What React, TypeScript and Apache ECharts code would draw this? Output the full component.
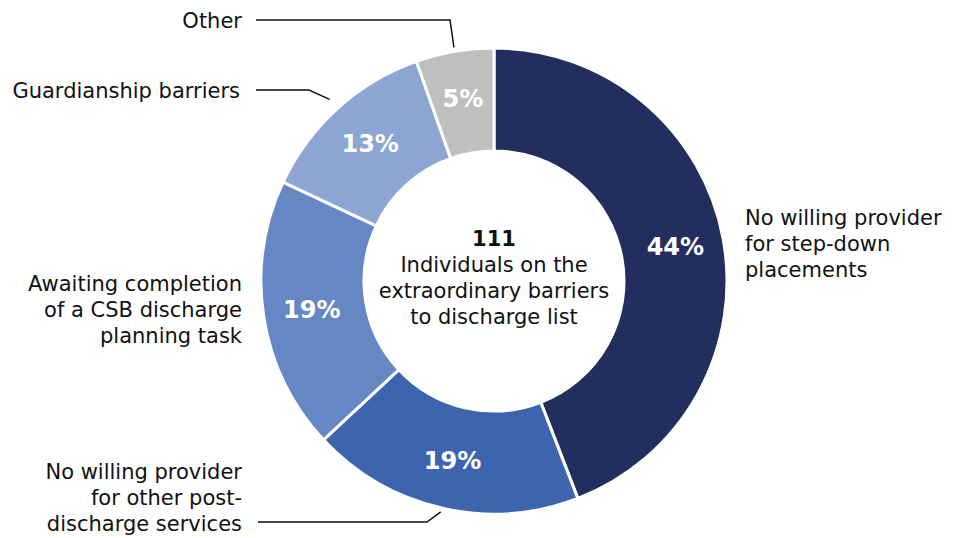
import React, { useEffect, useRef } from "react";
import * as echarts from "echarts";

// ---- data ----
const categories = [
  "No willing provider for step-down placements",
  "No willing provider for other post-discharge services",
  "Awaiting completion of a CSB discharge planning task",
  "Guardianship barriers",
  "Other",
];
const counts = [49, 21, 21, 14, 6];
const labelTextLines = [
  ["No willing provider", "for step-down", "placements"],
  ["No willing provider", "for other post-", "discharge services"],
  ["Awaiting completion", "of a CSB discharge", "planning task"],
  ["Guardianship barriers"],
  ["Other"],
];
const centerNumber = "111";
const centerLines = ["Individuals on the", "extraordinary barriers", "to discharge list"];

// ---- styling / layout ----
const colors = ["#222f5e", "#3e64ae", "#6587c3", "#8ca5d2", "#bfbfbf"];
const FONT = "DejaVu Sans";
const FS = 21;
const LH = 26;
const CX = 494;
const CY = 281;
const R_IN = 130;
const R_OUT = 233;

const labelLayout = [
  { x: 745, y: 244, align: "left" },
  { x: 242, y: 498, align: "right" },
  { x: 242, y: 310, align: "right" },
  { x: 240, y: 91, align: "right" },
  { x: 242, y: 21, align: "right" },
];
const leaders: Record<number, { lineY: number; startX: number; elbowX: number; gap: number }> = {
  1: { lineY: 522, startX: 258, elbowX: 427, gap: 4 },
  3: { lineY: 90, startX: 256, elbowX: 309, gap: 12 },
  4: { lineY: 20, startX: 256, elbowX: 450, gap: 4 },
};

export default function App() {
  const ref = useRef<HTMLDivElement>(null);
  useEffect(() => {
    document.body.style.margin = "0";
    if (!ref.current) return;
    const chart = echarts.init(ref.current, undefined, { renderer: "svg" });
    const total = counts.reduce((a, b) => a + b, 0);

    const graphics: any[] = [];
    let cum = 0;
    counts.forEach((v, i) => {
      const mid = ((cum + v / 2) / total) * Math.PI * 2;
      cum += v;
      const L = labelLayout[i];
      graphics.push({
        type: "text",
        x: L.x,
        y: L.y,
        style: {
          text: labelTextLines[i].join("\n"),
          align: L.align,
          verticalAlign: "middle",
          fontSize: FS,
          lineHeight: LH,
          fontFamily: FONT,
          fill: "#111",
        },
      });
      const ld = leaders[i];
      if (ld) {
        const r = R_OUT + ld.gap;
        const ax = CX + r * Math.sin(mid);
        const ay = CY - r * Math.cos(mid);
        graphics.push({
          type: "polyline",
          shape: {
            points: [
              [ld.startX, ld.lineY],
              [ld.elbowX, ld.lineY],
              [ax, ay],
            ],
          },
          style: { stroke: "#111", lineWidth: 1.5, fill: null },
        });
      }
    });

    graphics.push({
      type: "text",
      x: CX,
      y: CY - 3,
      style: {
        text:
          "{b|" + centerNumber + "}\n" + centerLines.map((l) => "{n|" + l + "}").join("\n"),
        align: "center",
        verticalAlign: "middle",
        rich: {
          b: { fontSize: FS, fontWeight: "bold", lineHeight: LH, fontFamily: FONT, fill: "#111", align: "center" },
          n: { fontSize: FS, lineHeight: LH, fontFamily: FONT, fill: "#111", align: "center" },
        },
      },
    });

    chart.setOption({
      animation: false,
      series: [
        {
          type: "pie",
          center: [CX, CY],
          radius: [R_IN, R_OUT],
          startAngle: 90,
          clockwise: true,
          avoidLabelOverlap: false,
          silent: true,
          label: {
            show: true,
            position: "inside",
            formatter: (p: any) => Math.round(p.percent) + "%",
            color: "#fff",
            fontSize: 24,
            fontWeight: "bold",
            fontFamily: FONT,
          },
          labelLine: { show: false },
          itemStyle: { borderColor: "#fff", borderWidth: 3 },
          emphasis: { disabled: true },
          data: categories.map((n, i) => ({ name: n, value: counts[i], itemStyle: { color: colors[i] } })),
        },
      ],
      graphic: graphics,
    });
    return () => chart.dispose();
  }, []);
  return <div ref={ref} style={{ width: 955, height: 538 }} />;
}
